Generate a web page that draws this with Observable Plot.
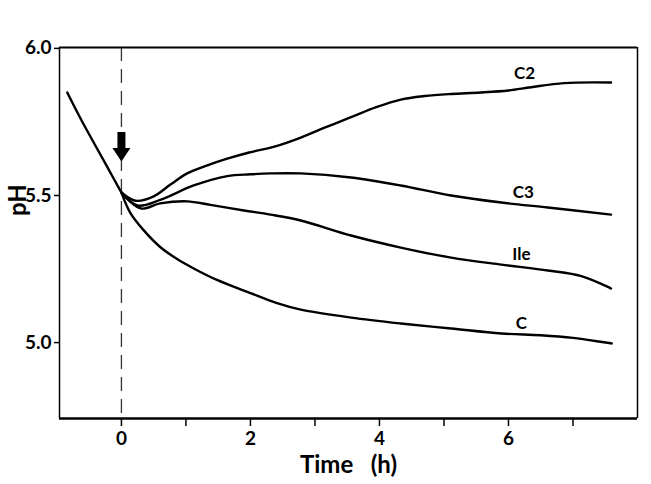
<!DOCTYPE html>
<html>
<head>
<meta charset="utf-8">
<script src="https://cdn.jsdelivr.net/npm/d3@7"></script>
<script src="https://cdn.jsdelivr.net/npm/@observablehq/plot@0.6"></script>
<style>
  html, body { margin: 0; padding: 0; background: #fff; }
  #chart { width: 651px; height: 484px; }
  #chart svg g[aria-label*="axis"] line { stroke-width: 1.5px; }
</style>
</head>
<body>
<div id="chart"></div>
<script>
// Shared descent before addition (all cultures identical)
const preT  = [-0.84, -0.63, -0.43, -0.22, 0];
const prePH = [5.85, 5.76, 5.68, 5.597, 5.51];

// Curves after addition at t = 0
const c2T  = [0, 0.22, 0.5, 0.76, 1.02, 1.3, 1.64, 1.98, 2.4, 2.78, 3.2, 3.56, 3.95, 4.33, 4.7, 5.11, 5.57, 6.0, 6.35, 6.86, 7.59];
const c2PH = [5.51, 5.482, 5.497, 5.537, 5.575, 5.6, 5.625, 5.646, 5.668, 5.697, 5.735, 5.766, 5.8, 5.826, 5.838, 5.845, 5.85, 5.857, 5.868, 5.882, 5.884];

const c3T  = [0, 0.25, 0.6, 1.12, 1.64, 2.0, 2.31, 2.78, 3.56, 4.33, 5.11, 5.89, 6.61, 7.59];
const c3PH = [5.51, 5.466, 5.485, 5.534, 5.566, 5.572, 5.575, 5.575, 5.561, 5.534, 5.5, 5.476, 5.459, 5.435];

const ileT  = [0, 0.3, 0.6, 1.02, 1.38, 1.9, 2.31, 2.78, 3.56, 4.33, 5.11, 5.89, 6.61, 7.13, 7.59];
const ilePH = [5.51, 5.456, 5.473, 5.48, 5.468, 5.449, 5.435, 5.415, 5.364, 5.323, 5.289, 5.265, 5.245, 5.226, 5.184];

const cT  = [0, 0.14, 0.34, 0.6, 0.87, 1.12, 1.49, 2.0, 2.4, 2.78, 3.56, 4.33, 5.11, 5.89, 6.5, 7.0, 7.6];
const cPH = [5.51, 5.44, 5.383, 5.325, 5.283, 5.252, 5.212, 5.168, 5.135, 5.112, 5.085, 5.065, 5.048, 5.031, 5.025, 5.016, 4.997];

// Curve labels
const labelNames = ["C2", "C3", "Ile", "C"];
const labelT     = [6.25, 6.23, 6.2, 6.2];
const labelPH    = [5.915, 5.51, 5.299, 5.065];

// Axis ticks
const xTicks = [0, 1, 2, 3, 4, 5, 6, 7];
const xTickLabels = ["0", "", "2", "", "4", "", "6", ""];
const yTicks = [5.0, 5.5, 6.0];
const yTickLabels = ["5.0", "5.5", "6.0"];

// Addition arrow (at t = 0)
const arrowT = [0];
const arrowShaftTop = [5.714];
const arrowShaftBottom = [5.655];
const arrowHeadPH = [5.643];

const xDomain = [-0.96, 8.0];
const yDomain = [4.742, 6.003];

const series = [
  ["pre", preT, prePH],
  ["C2", c2T, c2PH],
  ["C3", c3T, c3PH],
  ["Ile", ileT, ilePH],
  ["C", cT, cPH]
];
const rows = series.flatMap(([name, ts, ps]) => ts.map((t, i) => ({series: name, t, pH: ps[i]})));
const labels = labelNames.map((name, i) => ({name, t: labelT[i], pH: labelPH[i]}));
const arrow = arrowT.map((t, i) => ({t, top: arrowShaftTop[i], bottom: arrowShaftBottom[i], head: arrowHeadPH[i]}));

const downTriangle = {
  draw(context, size) {
    const r = Math.sqrt(size / Math.PI);
    context.moveTo(-r, -r * 0.6);
    context.lineTo(r, -r * 0.6);
    context.lineTo(0, r * 0.9);
    context.closePath();
  }
};

const chart = Plot.plot({
  width: 651,
  height: 484,
  marginLeft: 59,
  marginRight: 14,
  marginTop: 47,
  marginBottom: 66,
  style: {fontFamily: "Lato, 'Open Sans', sans-serif", fontWeight: "900", fontSize: "16px", color: "#000", background: "#fff"},
  marks: [
    Plot.axisX(xTicks, {tickFormat: (d) => xTickLabels[xTicks.indexOf(d)], tickSize: 8, tickPadding: 5, fontSize: 19, fontWeight: "bold", strokeWidth: 1.5, label: null}),
    Plot.axisY(yTicks, {tickFormat: d => yTickLabels[yTicks.indexOf(d)], tickSize: 5, tickPadding: 3, fontSize: 19, fontWeight: "bold", strokeWidth: 1.5, label: null}),
    Plot.ruleX([0], {stroke: "#333", strokeWidth: 1.3, strokeDasharray: "14,8"}),
    Plot.ruleY([yDomain[1]], {stroke: "#000", strokeWidth: 2}),
    Plot.ruleY([yDomain[0]], {stroke: "#000", strokeWidth: 2.5}),
    Plot.ruleX([xDomain[0]], {stroke: "#000", strokeWidth: 1.5}),
    Plot.ruleX([xDomain[1]], {stroke: "#000", strokeWidth: 1.5}),
    Plot.line(rows, {x: "t", y: "pH", z: "series", stroke: "#000", strokeWidth: 2.4, curve: "catmull-rom"}),
    Plot.ruleX(arrow, {x: "t", y1: "top", y2: "bottom", stroke: "#000", strokeWidth: 8}),
    Plot.dot(arrow, {x: "t", y: "head", r: 9, symbol: downTriangle, fill: "#000", stroke: "none"}),
    Plot.text(labels, {x: "t", y: "pH", text: "name", fontSize: 17, fontWeight: "bold"}),
    Plot.text(["Time\u00a0\u00a0\u00a0(h)"], {frameAnchor: "bottom", dy: 54, fontSize: 24, fontWeight: "bold"}),
    Plot.text(["pH"], {frameAnchor: "left", dx: -41, dy: -17, rotate: -90, fontSize: 24, fontWeight: "bold"})
  ],
  x: {domain: xDomain},
  y: {domain: yDomain}
});
document.getElementById("chart").appendChild(chart);
</script>
</body>
</html>
